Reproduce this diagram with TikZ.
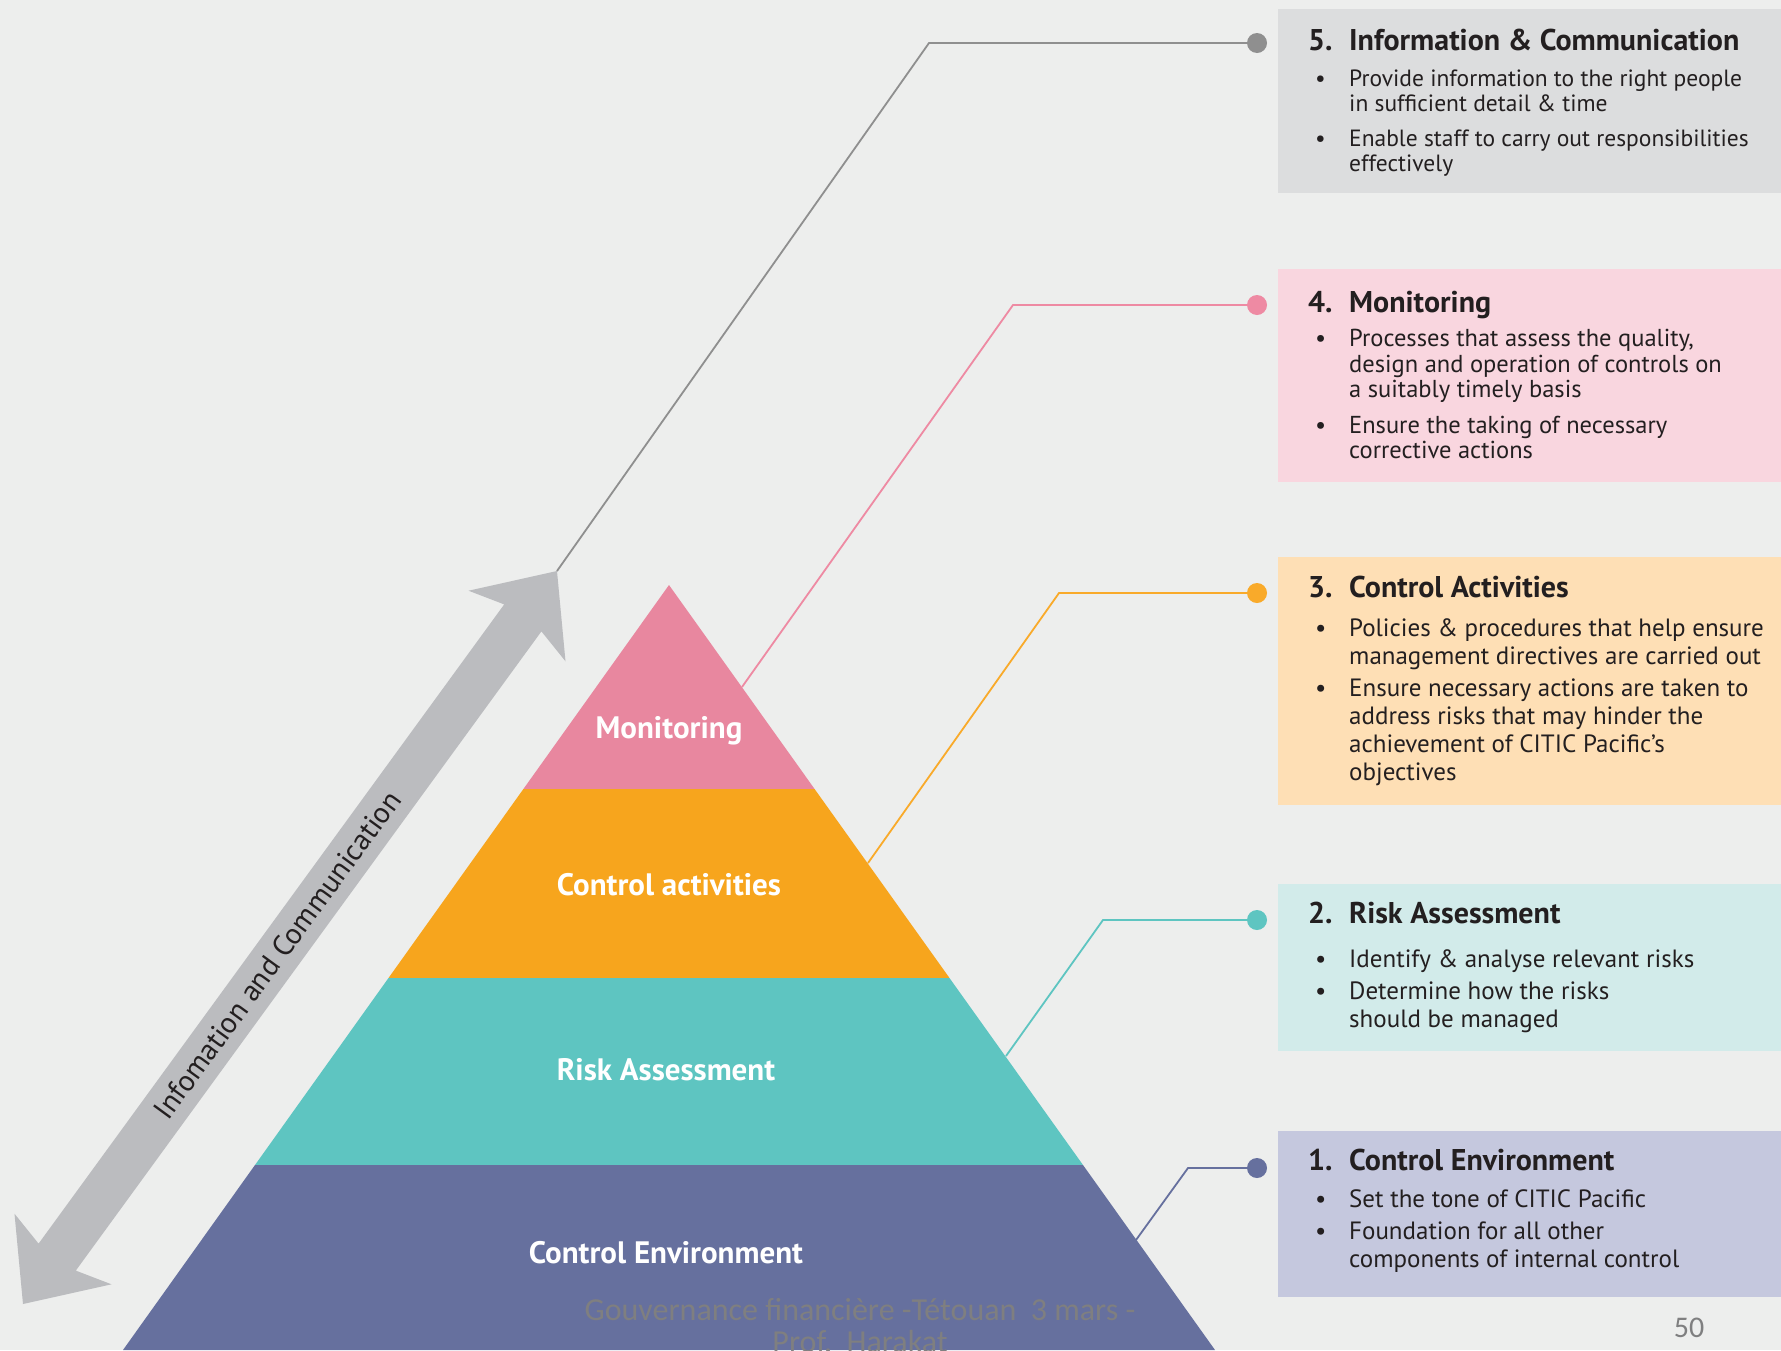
\documentclass[tikz,border=0pt]{standalone}
\usepackage{fontspec}
\setmainfont{PT Sans}
\newfontfamily\calib{Carlito}
\usetikzlibrary{calc}
\definecolor{bgc}{HTML}{EDEEED}
\definecolor{cpink}{HTML}{E8879F}
\definecolor{corange}{HTML}{F7A51D}
\definecolor{cteal}{HTML}{5EC5C1}
\definecolor{cnavy}{HTML}{66709E}
\definecolor{bx5}{HTML}{DCDDDE}
\definecolor{bx4}{HTML}{F9D6DF}
\definecolor{bx3}{HTML}{FEDFB5}
\definecolor{bx2}{HTML}{D2EBEA}
\definecolor{bx1}{HTML}{C5C8DE}
\definecolor{lgrey}{HTML}{8F8F8F}
\definecolor{lpink}{HTML}{EE8AA3}
\definecolor{lorange}{HTML}{F9AA2A}
\definecolor{agrey}{HTML}{BBBCBF}
\definecolor{txt}{HTML}{231F20}
\definecolor{foot}{HTML}{7F7F80}
\newcommand\ttlf{\bfseries\fontsize{30}{30}\selectfont}
\newcommand\numc[1]{\makebox[41pt][l]{\ttlf #1}}
\newcommand\bulc{\makebox[41pt][l]{\hspace*{7pt}\textbullet}}
\begin{document}
\begin{tikzpicture}[x=1pt,y=-1pt,
  lbl/.style={text=white, font=\bfseries\fontsize{31}{34}\selectfont, inner sep=0pt},
  dotn/.style={circle, minimum size=20pt, inner sep=0pt},
  boxn/.style={rectangle, minimum width=503pt, anchor=north west, inner sep=0pt},
  boxtext/.style={anchor=base west, inner sep=0pt, text=txt},
  conn/.style={line width=1.8pt}]
\clip (0,0) rectangle (1781,1350);
\fill[bgc] (0,0) rectangle (1781,1350);

% boxes
\node[boxn, fill=bx5, minimum height=184pt] (box5) at (1278,9) {};
\node[boxn, fill=bx4, minimum height=213pt] (box4) at (1278,269) {};
\node[boxn, fill=bx3, minimum height=248pt] (box3) at (1278,557) {};
\node[boxn, fill=bx2, minimum height=167pt] (box2) at (1278,884) {};
\node[boxn, fill=bx1, minimum height=166pt] (box1) at (1278,1131) {};

% pyramid
\coordinate (apex) at (669,585);
\fill[cpink] (apex) -- (814.6,789) -- (523.4,789) -- cycle;
\fill[corange] (523.4,789) -- (814.6,789) -- (949.5,978) -- (388.5,978) -- cycle;
\fill[cteal] (388.5,978) -- (949.5,978) -- (1083,1165) -- (255,1165) -- cycle;
\fill[cnavy] (255,1165) -- (1083,1165) -- (1215,1350) -- (123,1350) -- cycle;
\node[lbl] (l4) at (669,731) {Monitoring};
\node[lbl] (l3) at (669,885) {Control activities};
\node[lbl] (l2) at (666,1070) {Risk Assessment};
\node[lbl] (l1) at (666,1253) {Control Environment};

% grey double arrow
\coordinate (tipA) at (557,571);
\coordinate (tipB) at (23,1304);
\fill[agrey] (tipA) -- (565.5,661.3) -- (541.4,631.4) -- (75.8,1270.6) -- (111.5,1284.3)
  -- (tipB) -- (14.5,1213.7) -- (38.6,1243.6) -- (504.2,604.4) -- (468.5,590.7) -- cycle;
\node[rotate=53.9, text=txt, font=\fontsize{29.5}{32}\selectfont, inner sep=0pt] (ic) at (277,955) {Infomation and Communication};

% connectors
\coordinate (e4) at (742,687);
\coordinate (e3) at (868,863);
\coordinate (e2) at (1006,1056);
\coordinate (e1) at (1136,1240);
\coordinate (k5) at (929,43);
\coordinate (k4) at (1013,305);
\coordinate (k3) at (1059,593);
\coordinate (k2) at (1103,920);
\coordinate (k1) at (1188,1168);
\node[dotn, fill=lgrey] (d5) at (1257,43) {};
\node[dotn, fill=lpink] (d4) at (1257,305) {};
\node[dotn, fill=lorange] (d3) at (1257,593) {};
\node[dotn, fill=cteal] (d2) at (1257,920) {};
\node[dotn, fill=cnavy] (d1) at (1257,1168) {};
\draw[conn, lgrey] (tipA) -- (k5) -- (d5.center);
\draw[conn, lpink] (e4) -- (k4) -- (d4.center);
\draw[conn, lorange] (e3) -- (k3) -- (d3.center);
\draw[conn, cteal] (e2) -- (k2) -- (d2.center);
\draw[conn, cnavy] (e1) -- (k1) -- (d1.center);

% box texts
\node[boxtext] (t5) at (1308,50) {\fontsize{23.5}{25}\selectfont
\begin{tabular}[t]{@{}l@{}l@{}}
\numc{5.} & {\ttlf Information \& Communication}\\[11pt]
\bulc & Provide information to the right people\\
 & in sufficient detail \& time\\[10pt]
\bulc & Enable staff to carry out responsibilities\\
 & effectively
\end{tabular}};
\node[boxtext] (t4) at (1308,312) {\fontsize{24.5}{25.5}\selectfont
\begin{tabular}[t]{@{}l@{}l@{}}
\numc{4.} & {\ttlf Monitoring}\\[9pt]
\bulc & Processes that assess the quality,\\
 & design and operation of controls on\\
 & a suitably timely basis\\[10pt]
\bulc & Ensure the taking of necessary\\
 & corrective actions
\end{tabular}};
\node[boxtext] (t3) at (1308,597) {\fontsize{25}{28}\selectfont
\begin{tabular}[t]{@{}l@{}l@{}}
\numc{3.} & {\ttlf Control Activities}\\[11pt]
\bulc & Policies \& procedures that help ensure\\
 & management directives are carried out\\[4pt]
\bulc & Ensure necessary actions are taken to\\
 & address risks that may hinder the\\
 & achievement of CITIC Pacific’s\\
 & objectives
\end{tabular}};
\node[boxtext] (t2) at (1308,923) {\fontsize{25}{28}\selectfont
\begin{tabular}[t]{@{}l@{}l@{}}
\numc{2.} & {\ttlf Risk Assessment}\\[16pt]
\bulc & Identify \& analyse relevant risks\\[4pt]
\bulc & Determine how the risks\\
 & should be managed
\end{tabular}};
\node[boxtext] (t1) at (1308,1170) {\fontsize{25}{28}\selectfont
\begin{tabular}[t]{@{}l@{}l@{}}
\numc{1.} & {\ttlf Control Environment}\\[9pt]
\bulc & Set the tone of CITIC Pacific\\[4pt]
\bulc & Foundation for all other\\
 & components of internal control
\end{tabular}};

% footer
\node[text=foot, font=\calib\fontsize{32}{32}\selectfont, align=center, anchor=base] (ft) at (860,1352)
  {Gouvernance financière -Tétouan\ \ 3 mars -\\Prof.\ \ Harakat};
\node[text=foot, font=\calib\fontsize{30}{34}\selectfont, anchor=base] (pg) at (1689,1337) {50};
\end{tikzpicture}
\end{document}
